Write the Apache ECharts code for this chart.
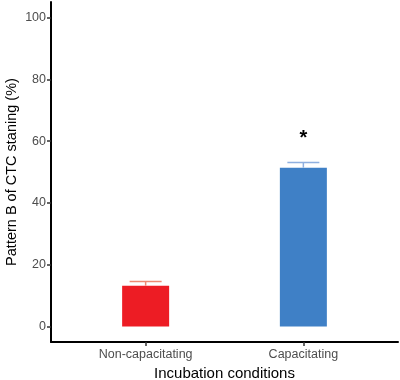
<!DOCTYPE html>
<html>
<head>
<meta charset="utf-8">
<script src="https://cdn.jsdelivr.net/npm/echarts@6/dist/echarts.min.js"></script>
<style>
  html, body { margin: 0; padding: 0; background: #fff; }
  #chart { width: 400px; height: 380px; }
</style>
</head>
<body>
<div id="chart"></div>
<script>
// data
const categories = ["Non-capacitating", "Capacitating"];
const means = [13.2, 51.4];
const errors = [1.4, 1.7];
const signif = ["", "*"];
const barColors = ["#ED1C24", "#3F80C6"];
const errColors = ["#EE8A73", "#8FB0E0"];
const yTicks = [0, 20, 40, 60, 80, 100];

const chart = echarts.init(document.getElementById("chart"));

const positions = categories.map((c, i) => i + 1);

chart.setOption({
  backgroundColor: "#fff",
  animation: false,
  grid: {
    left: 51,
    right: 2,
    top: 2,
    bottom: 38,
    outerBoundsMode: "none",
    containLabel: false,
  },
  xAxis: {
    type: "value",
    min: 0.4,
    max: 2.6,
    name: "Incubation conditions",
    nameLocation: "middle",
    nameGap: 24,
    nameMoveOverlap: false,
    nameTextStyle: {
      color: "#000",
      fontSize: 15,
      fontFamily: "Liberation Sans",
    },
    splitLine: { show: false },
    axisLine: {
      show: true,
      onZero: false,
      lineStyle: { color: "#000", width: 2 },
    },
    axisTick: {
      show: true,
      length: 4,
      customValues: positions,
      lineStyle: { color: "#333", width: 1.5 },
    },
    axisLabel: {
      customValues: positions,
      margin: 6,
      color: "#4D4D4D",
      fontSize: 12.5,
      fontFamily: "Liberation Sans",
      formatter: (v) => categories[Math.round(v) - 1] || "",
    },
  },
  yAxis: {
    type: "value",
    min: -5,
    max: 105,
    name: "Pattern B of CTC staning (%)",
    nameLocation: "middle",
    nameGap: 32,
    nameMoveOverlap: false,
    nameTextStyle: {
      color: "#000",
      fontSize: 14.5,
      fontFamily: "Liberation Sans",
    },
    splitLine: { show: false },
    axisLine: {
      show: true,
      lineStyle: { color: "#000", width: 2 },
    },
    axisTick: {
      show: true,
      length: 4,
      customValues: yTicks,
      lineStyle: { color: "#333", width: 1.5 },
    },
    axisLabel: {
      customValues: yTicks,
      margin: 5,
      color: "#4D4D4D",
      fontSize: 12.5,
      fontFamily: "Liberation Sans",
    },
  },
  series: [
    {
      type: "bar",
      barWidth: 47,
      data: means.map((m, i) => ({
        value: [positions[i], m],
        itemStyle: { color: barColors[i] },
      })),
      z: 2,
    },
    {
      type: "custom",
      z: 3,
      data: means.map((m, i) => [positions[i], m, m + errors[i], i]),
      renderItem: function (params, api) {
        const x = api.value(0);
        const i = api.value(3);
        const base = api.coord([x, api.value(1)]);
        const top = api.coord([x, api.value(2)]);
        const half = 16;
        const children = [
          {
            type: "line",
            shape: { x1: base[0], y1: base[1], x2: top[0], y2: top[1] },
            style: { stroke: errColors[i], lineWidth: 1.5 },
          },
          {
            type: "line",
            shape: { x1: top[0] - half, y1: top[1], x2: top[0] + half, y2: top[1] },
            style: { stroke: errColors[i], lineWidth: 1.5 },
          },
        ];
        if (signif[i]) {
          children.push({
            type: "text",
            style: {
              text: signif[i],
              x: top[0],
              y: top[1] - 24,
              align: "center",
              verticalAlign: "middle",
              fill: "#000",
              font: "bold 20px Liberation Sans",
            },
          });
        }
        return { type: "group", children: children };
      },
    },
  ],
});
</script>
</body>
</html>
